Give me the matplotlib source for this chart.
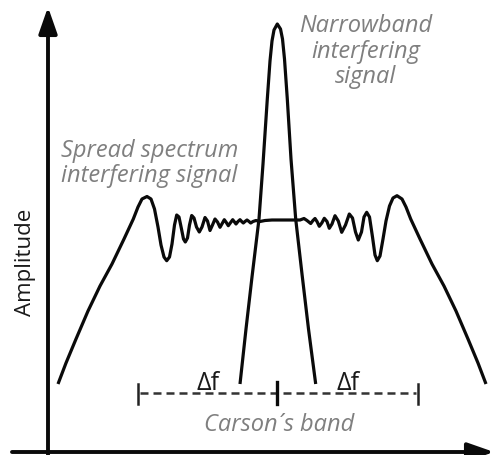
import matplotlib
matplotlib.use("Agg")
import matplotlib.pyplot as plt

# ---- data (frequency, amplitude) in chart units ----
spread_freq = [10, 18, 28, 40, 52, 64, 76, 85.3, 90, 94, 99,
               103, 106.5, 110, 113, 116, 118.7, 121.5, 124, 126.5, 128.7, 131, 133.5, 135.5, 137.3,
               139.5, 141.5, 143.7, 146, 148.5, 151.3, 154, 157, 159.5, 162, 164.5, 167, 169.5, 172,
               174.2, 176.3, 178.3, 180.3, 182.5, 184.7, 186.5, 188, 190, 192, 193.7, 195.3, 197, 199,
               201, 202.7, 205, 208, 212,
               217, 224, 232, 242, 252,
               256, 259, 262.7, 265, 267, 269, 271.3, 273.8, 276.3, 279, 281.3, 284, 287, 290.3, 293.7,
               297.5, 301.3, 304.5, 307.5, 310.3, 313.5, 316, 318.7, 321.5, 324.5, 327, 329.3, 332, 335,
               338, 341.5, 345, 349, 354, 358, 362.7, 372, 384, 396, 408, 420, 430, 438]
spread_amp = [68, 89, 113, 141, 166, 188, 213, 233, 245, 253, 255.5,
              253, 243, 225, 207, 195, 191.3, 195, 208, 227, 237, 235, 223, 213, 210,
              214, 227, 236.5, 234, 225, 220, 225, 234.5, 231, 221.5, 227, 233, 230, 224.7,
              228.5, 232.3, 229.5, 226.3, 229.3, 232.3, 230, 228, 230.5, 232.3, 230.5, 229, 230.5, 232,
              230.5, 229, 230.5, 231.5, 230.5,
              231.5, 232, 232, 232, 232,
              233.5, 231.5, 228.5, 231.5, 233.5, 230.5, 225.7, 229, 233.7, 230.5, 223.7, 228, 236.3, 231, 219.7,
              227, 238, 234, 220, 212, 220, 235, 239.7, 235, 215, 197, 191.3, 196, 213,
              231, 246, 254, 256.3, 253, 245, 233, 213, 188, 166, 141, 113, 89, 68]

narrow_freq = [192, 198, 204, 211, 215, 219.3, 222, 224, 226, 229.3, 232.5, 234.5, 236.5,
               239.3, 243, 247.7, 254, 260.5, 267.7]
narrow_amp = [68, 123, 175, 233, 288, 353, 391, 411, 422, 428, 423, 413, 393,
              353, 293, 233, 178, 123, 68]

band_start, band_center, band_end = 89.5, 229, 370
band_level = 59

TEXT_GRAY = "#7f7f7f"
INK = "#0a0a0a"
FONT = "Open Sans"
FS = 17

fig = plt.figure(figsize=(4.94, 4.56), dpi=100)
ax = fig.add_axes([48 / 494, 3 / 456, 446 / 494, 453 / 456])
ax.set_xlim(0, 446)
ax.set_ylim(0, 453)
ax.axis("off")

# axes with arrows
arrow_kw = dict(arrowstyle="-|>,head_length=0.8,head_width=0.28", color=INK, lw=2.8,
                mutation_scale=20, shrinkA=0, shrinkB=0)
ax.annotate("", xy=(0, 445), xytext=(0, -4), xycoords="data",
            arrowprops=arrow_kw, annotation_clip=False)
ax.annotate("", xy=(446, 0), xytext=(-36, 0), xycoords="data",
            arrowprops=arrow_kw, annotation_clip=False)

# curves
ax.plot(spread_freq, spread_amp, color=INK, lw=2.3, solid_joinstyle="round",
        solid_capstyle="butt", clip_on=False)
ax.plot(narrow_freq, narrow_amp, color=INK, lw=2.3, solid_joinstyle="round",
        solid_capstyle="butt", clip_on=False)

# Carson's band
ax.plot([band_start + 2, band_end - 2], [band_level, band_level], color="#333333", lw=1.8,
        linestyle=(0, (3.2, 2.0)))
ax.plot([band_start, band_start], [band_level - 11, band_level + 9], color="#222222", lw=1.8)
ax.plot([band_end, band_end], [band_level - 11, band_level + 9], color="#222222", lw=1.8)
ax.plot([band_center, band_center], [band_level - 11, band_level + 11], color=INK, lw=2.4)

ax.text(160, 63, "Δf", family=FONT, fontsize=18, color="#1a1a1a", ha="center", va="baseline")
ax.text(300.5, 63, "Δf", family=FONT, fontsize=18, color="#1a1a1a", ha="center", va="baseline")
ax.text(231, 22.3, "Carson´s band", family=FONT, style="italic", fontsize=FS,
        color=TEXT_GRAY, ha="center", va="baseline")

ax.text(13, 295.7, "Spread spectrum", family=FONT, style="italic", fontsize=FS,
        color=TEXT_GRAY, ha="left", va="baseline")
ax.text(13, 271.3, "interfering signal", family=FONT, style="italic", fontsize=FS,
        color=TEXT_GRAY, ha="left", va="baseline")

ax.text(317.5, 420.7, "Narrowband", family=FONT, style="italic", fontsize=FS,
        color=TEXT_GRAY, ha="center", va="baseline")
ax.text(317.5, 395, "interfering", family=FONT, style="italic", fontsize=FS,
        color=TEXT_GRAY, ha="center", va="baseline")
ax.text(317.5, 369.7, "signal", family=FONT, style="italic", fontsize=FS,
        color=TEXT_GRAY, ha="center", va="baseline")

ax.text(-23, 190.5, "Amplitude", family=FONT, fontsize=16, color="#1a1a1a",
        rotation=90, ha="center", va="center")

fig.savefig("out.png", dpi=100)
